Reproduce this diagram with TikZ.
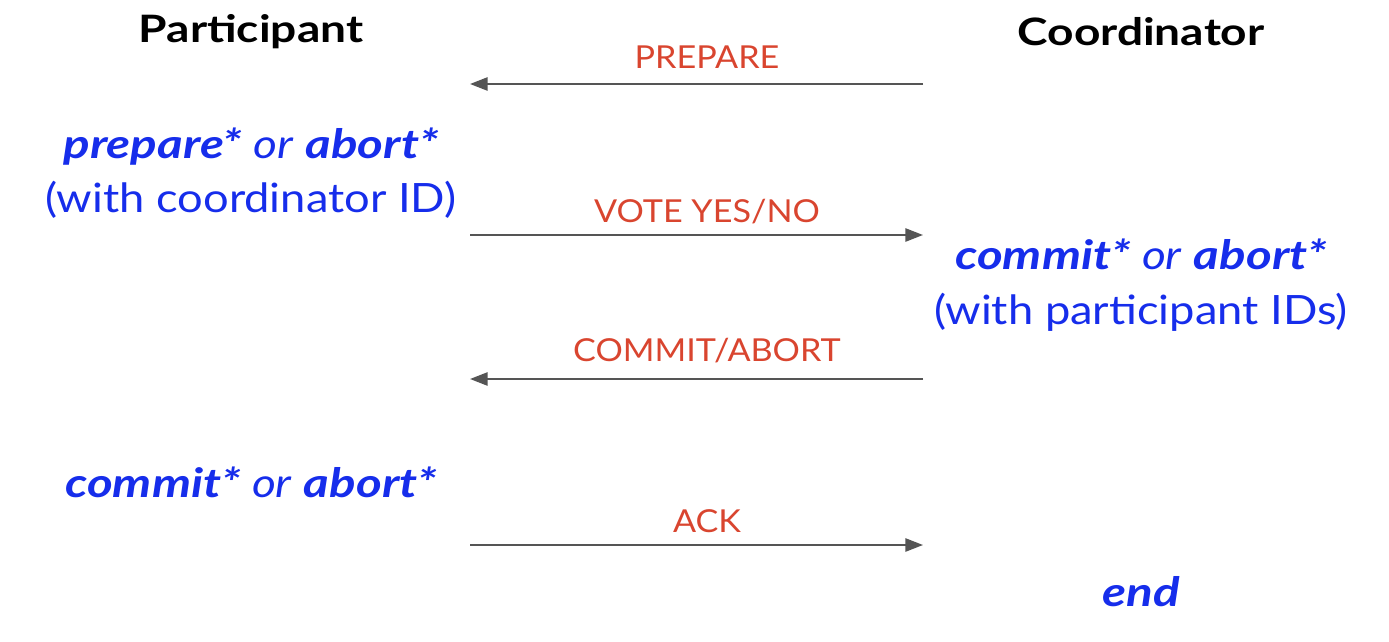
\documentclass[tikz,border=0pt]{standalone}
\usepackage{fontspec}
\setmainfont{Lato}
\newfontfamily\rolefont{Lato}[FakeStretch=1.22]
\newfontfamily\statefont{Lato}[UprightFeatures={FakeStretch=1.12},
  ItalicFeatures={FakeStretch=1.14},BoldItalicFeatures={FakeStretch=1.22}]
\newfontfamily\msgfont{Lato}[FakeStretch=1.08]
\usetikzlibrary{arrows.meta}
\definecolor{stateblue}{RGB}{22,45,235}
\definecolor{msgred}{RGB}{217,69,47}
\definecolor{msggray}{RGB}{85,85,85}
\begin{document}
\begin{tikzpicture}[x=0.02cm,y=-0.02cm]
  \tikzstyle{role}=[font=\rolefont\fontsize{21.5}{26}\selectfont\bfseries,text=black,inner sep=0pt]
  \tikzstyle{state}=[font=\statefont\fontsize{23}{31}\selectfont,text=stateblue,align=center,inner sep=0pt]
  \tikzstyle{msglabel}=[font=\msgfont\fontsize{18}{22}\selectfont,text=msgred,inner sep=0pt]
  \tikzstyle{msg}=[draw=msggray,line width=1.1pt,-{Triangle[length=10pt,width=7.5pt]}]
  \useasboundingbox (0,0) rectangle (1389,642);
  % roles
  \node[role] (part) at (251,32) {Participant};
  \node[role] (coord) at (1141,32) {Coordinator};
  % states
  \node[state] (P_1) at (251,173) {\textbf{\textit{prepare*}} \textit{or} \textbf{\textit{abort*}}\\(with coordinator ID)};
  \node[state] (C_1) at (1141,285) {\textbf{\textit{commit*}} \textit{or} \textbf{\textit{abort*}}\\(with participant IDs)};
  \node[state] (P_2) at (251,482) {\textbf{\textit{commit*}} \textit{or} \textbf{\textit{abort*}}};
  \node[state] (C_2) at (1141,592) {\textbf{\textit{end}}};
  % arrow ends
  \coordinate (L_1) at (470,84);  \coordinate (R_1) at (923,84);
  \coordinate (L_2) at (470,235); \coordinate (R_2) at (923,235);
  \coordinate (L_3) at (470,379); \coordinate (R_3) at (923,379);
  \coordinate (L_4) at (470,545); \coordinate (R_4) at (923,545);
  % messages
  \draw[msg] (R_1) -- (L_1);
  \draw[msg] (L_2) -- (R_2);
  \draw[msg] (R_3) -- (L_3);
  \draw[msg] (L_4) -- (R_4);
  \node[msglabel] (m_1) at (707,57) {PREPARE};
  \node[msglabel] (m_2) at (707,212) {VOTE YES/NO};
  \node[msglabel] (m_3) at (707,351) {COMMIT/ABORT};
  \node[msglabel] (m_4) at (707,521) {ACK};
\end{tikzpicture}
\end{document}
